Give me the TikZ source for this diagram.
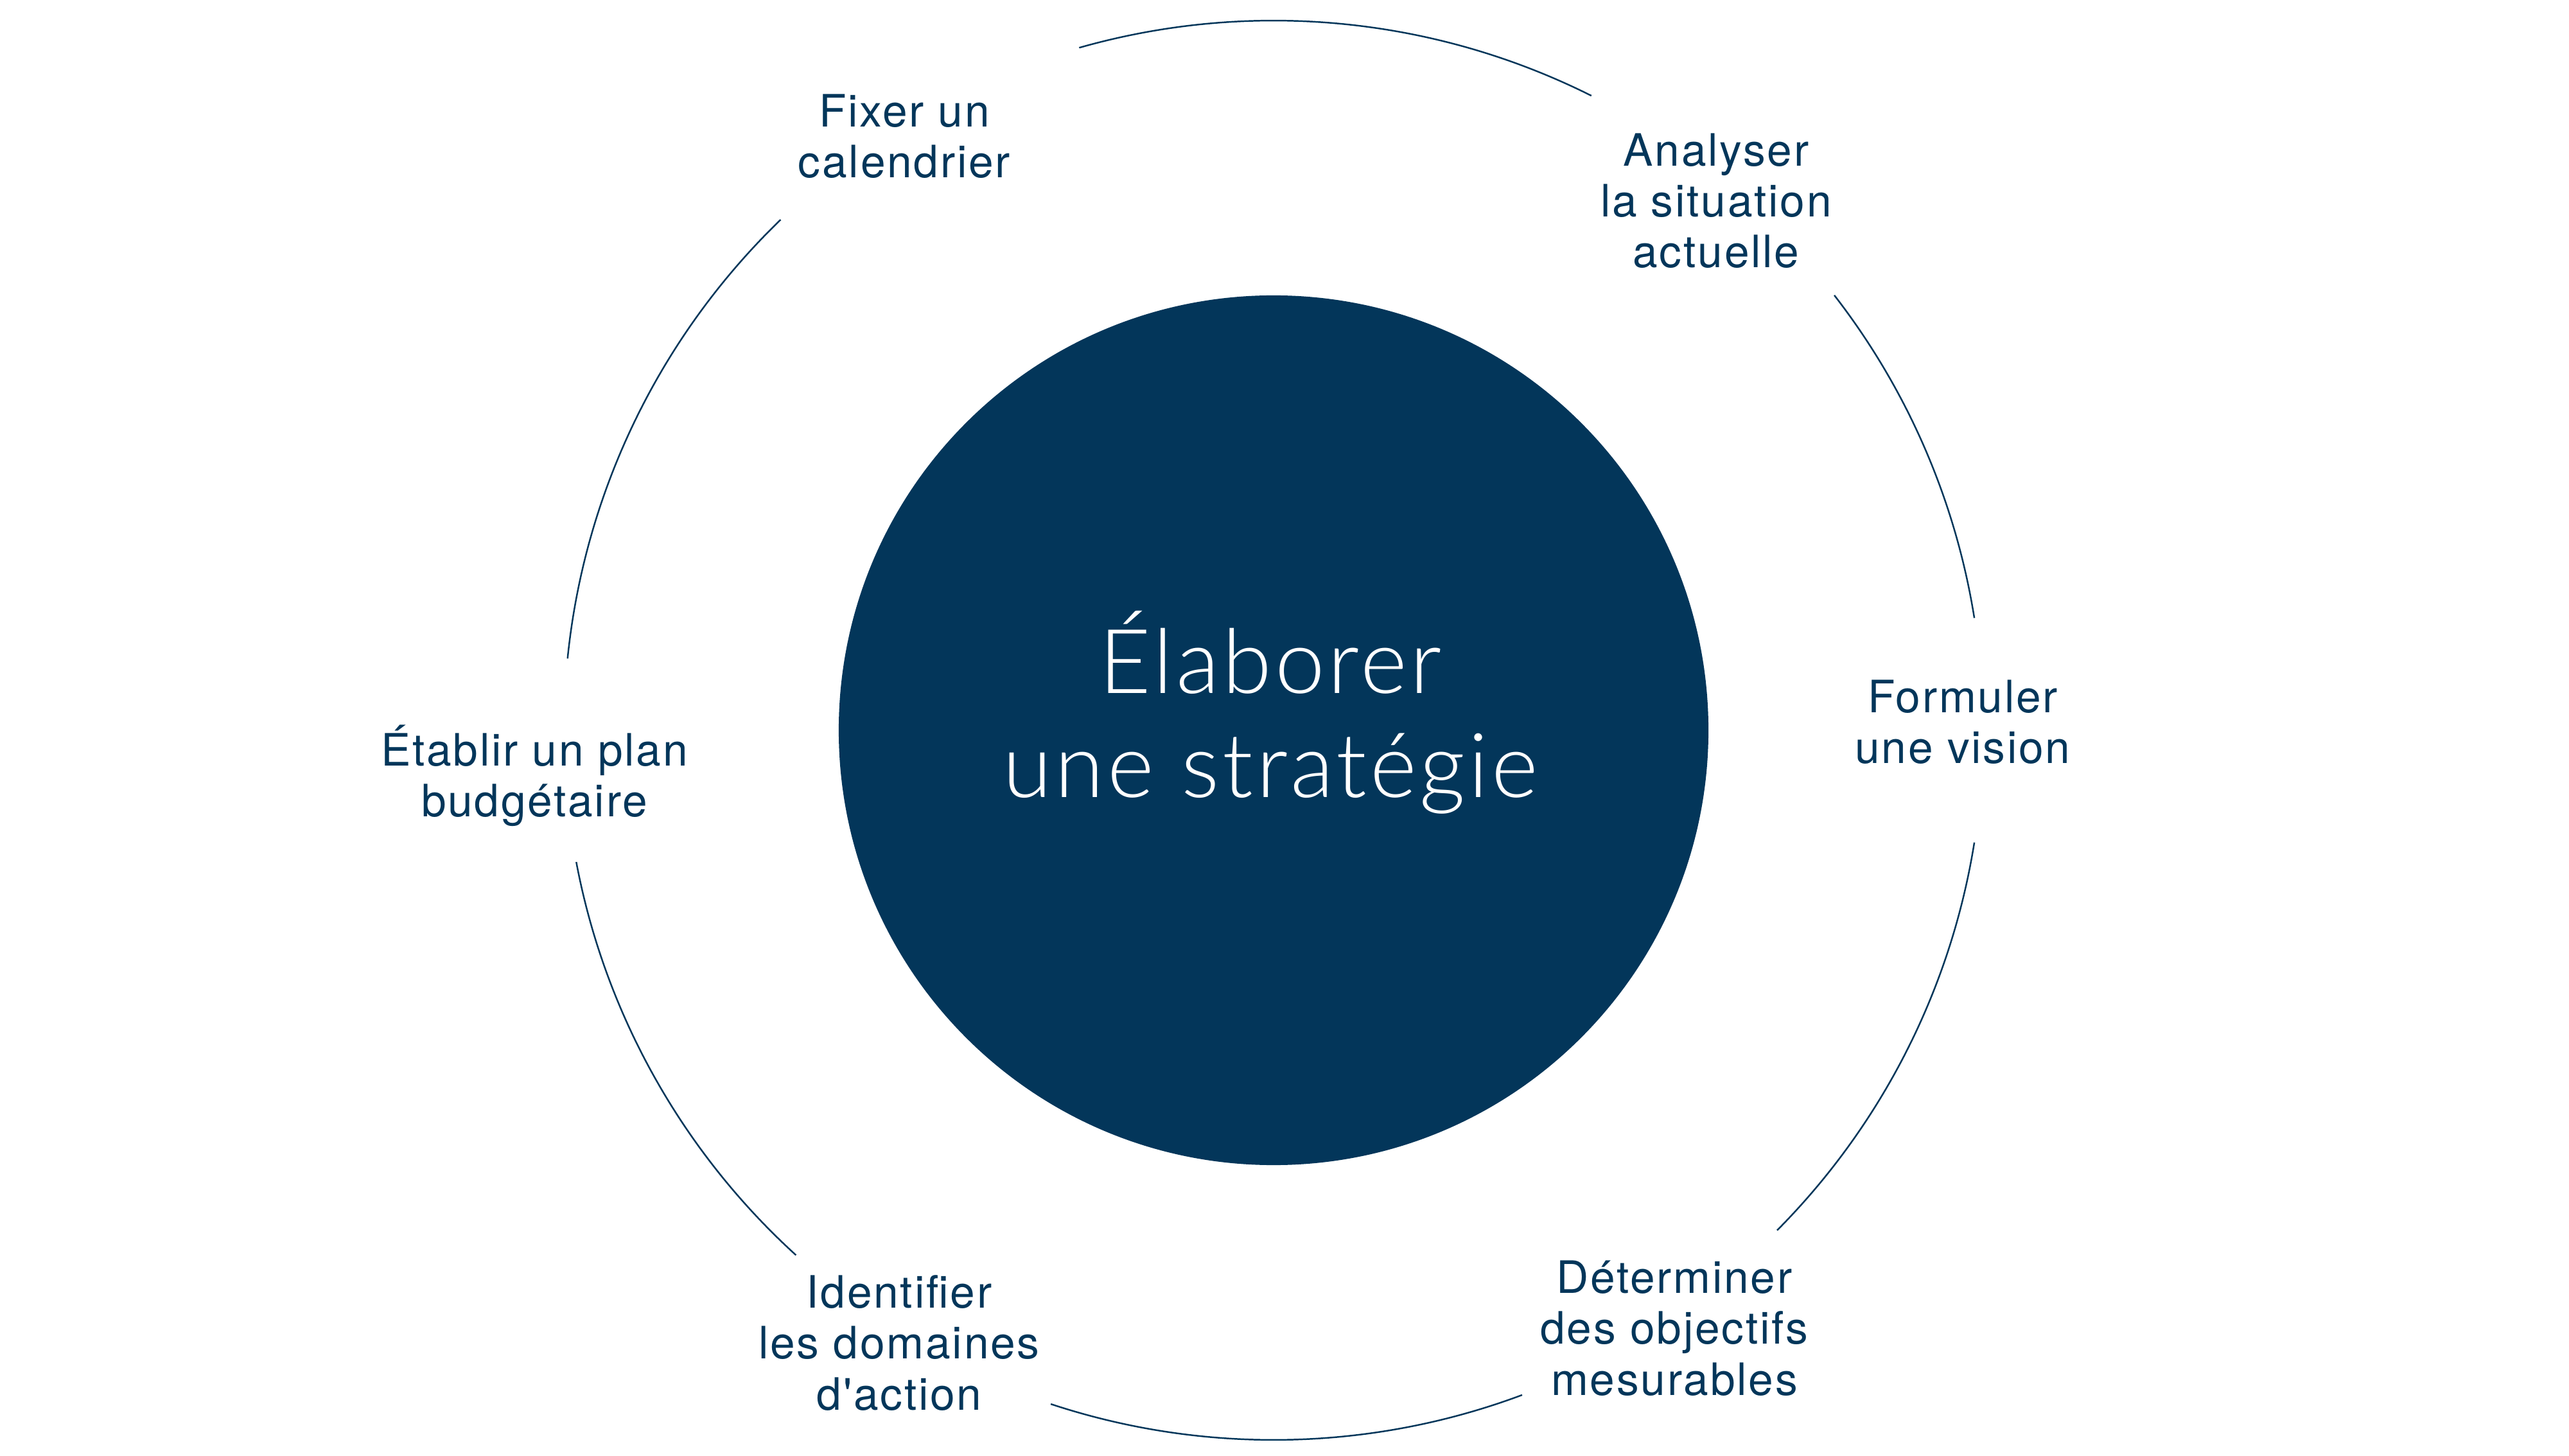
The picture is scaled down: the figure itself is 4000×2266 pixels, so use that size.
\documentclass[tikz,border=0pt]{standalone}
\usepackage{fontspec}
\setmainfont{TeX Gyre Heros}[LetterSpace=4, Ligatures=TeXOff]
\newfontfamily\hubfont{Lato Light}[LetterSpace=3.5]
\definecolor{navy}{HTML}{03365A}
\begin{document}
\begin{tikzpicture}[x=0.2835pt,y=0.2835pt]
\useasboundingbox (0,0) rectangle (4000,2266);
\tikzset{
  ring/.style={draw=navy, line width=0.7pt},
  steplabel/.style={text=navy, align=center, anchor=base, inner sep=0pt,
    font=\fontsize{19.7}{22.4}\selectfont},
  hubtext/.style={text=white, align=center, anchor=base, inner sep=0pt,
    font=\hubfont\fontsize{39.5}{46.2}\selectfont},
}
\coordinate (c) at (1983,1129);
\node[circle, fill=navy, minimum size=383.9pt, inner sep=0pt] (hub) at (c) {};
\node[hubtext] (title) at (1978,1024) {Élaborer\\une stratégie};
\foreach \a/\b in {63.4/105.9, 9.1/37.8, -44.8/-9.1, -108.3/-69.5, -169.3/-132.3, 134.0/174.2}
  \draw[ring] ([shift={(\a:1105)}]c) arc[start angle=\a, end angle=\b, radius=1105];
\node[steplabel] (fixer) at (1408,1989) {Fixer un\\calendrier};
\node[steplabel] (analyser) at (2672,1849) {Analyser\\la situation\\actuelle};
\node[steplabel] (formuler) at (3056,1077) {Formuler\\une vision};
\node[steplabel] (determiner) at (2607,94) {Déterminer\\des objectifs\\mesurables};
\node[steplabel] (identifier) at (1400,71) {Identifier\\les domaines\\d'action};
\node[steplabel] (etablir) at (832,994) {Établir un plan\\budgétaire};
\end{tikzpicture}
\end{document}
